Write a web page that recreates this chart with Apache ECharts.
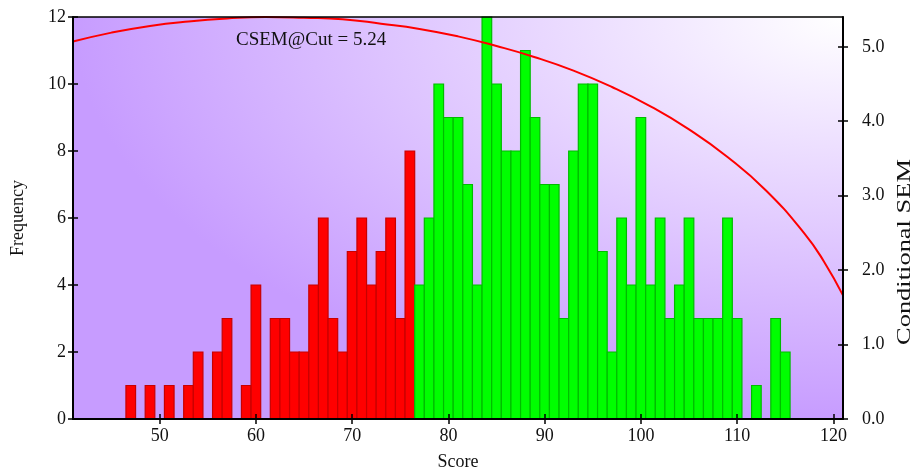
<!DOCTYPE html>
<html>
<head>
<meta charset="utf-8">
<script src="https://cdn.jsdelivr.net/npm/echarts@6/dist/echarts.min.js"></script>
<style>html,body{margin:0;padding:0;background:#fff}#c{width:914px;height:476px}</style>
</head>
<body>
<div id="c"></div>
<script>
// ---- data ----
const scores = [47,48,49,50,51,52,53,54,55,56,57,58,59,60,61,62,63,64,65,66,67,68,69,70,71,72,73,74,75,76,77,78,79,80,81,82,83,84,85,86,87,88,89,90,91,92,93,94,95,96,97,98,99,100,101,102,103,104,105,106,107,108,109,110,111,112,113,114,115];
const freqs  = [1,0,1,0,1,0,1,2,0,2,3,0,1,4,0,3,3,2,2,4,6,3,2,5,6,4,5,6,3,8,4,6,10,9,9,7,4,12,10,8,8,11,9,7,7,3,8,10,10,5,2,6,4,9,4,6,3,4,6,3,3,3,6,3,0,1,0,3,2];
const cutScore = 76.5;
const csemX = [41,45,49,53,57,61,65,69,73,77,81,85,89,93,97,101,105,109,113,117,119,121];
const csemY = [5.07,5.19,5.28,5.34,5.38,5.40,5.39,5.37,5.31,5.24,5.14,5.01,4.86,4.68,4.46,4.20,3.89,3.52,3.07,2.49,2.12,1.66];
const xTicks = [50,60,70,80,90,100,110,120];
const yLeftTicks = [0,2,4,6,8,10,12];
const yRightTicks = [0,1,2,3,4,5];
const csemAtCutLabel = 'CSEM@Cut = 5.24';

const FONT = 'Liberation Serif';
const chart = echarts.init(document.getElementById('c'));
const G = {left:73, right:71, top:17, bottom:57};
const pw = 914 - G.left - G.right, ph = 476 - G.top - G.bottom;

const barData = scores.map((s,i)=>[s, freqs[i]]);
const lineData = csemX.map((x,i)=>[x, csemY[i]]);

const blackLine = {color:'#000', width:2};
chart.setOption({
  animation:false,
  textStyle:{fontFamily:FONT},
  grid:{left:G.left, right:G.right, top:G.top, bottom:G.bottom},
  graphic:[
    {type:'rect', x:G.left, y:G.top, scaleX: pw/ph, silent:true, z:-1,
     shape:{x:0,y:0,width:ph,height:ph},
     style:{fill:new echarts.graphic.RadialGradient(1,0,1,[{offset:0,color:'#ffffff'},{offset:1,color:'#c79cff'}])}},
    {type:'text', x:236, y:40, silent:true, z:50,
     style:{text:csemAtCutLabel, font:'19px "Liberation Serif"', fill:'#111', align:'left', verticalAlign:'middle'}},
    {type:'text', x:905, y:252, rotation:Math.PI/2, scaleX:1.47, silent:true, z:50,
     style:{text:'Conditional SEM', font:'18px "Liberation Serif"', fill:'#111', align:'center', verticalAlign:'middle'}}
  ],
  xAxis:[
    {type:'value', min:41, max:121, position:'bottom', z:10,
     name:'Score', nameLocation:'middle', nameGap:34, nameTextStyle:{fontSize:18, color:'#111', fontFamily:FONT},
     axisLine:{show:true, onZero:false, lineStyle:blackLine},
     axisTick:{show:true, customValues:xTicks, length:5, lineStyle:{color:'#000', width:1.5}},
     axisLabel:{show:true, customValues:xTicks, fontSize:18, color:'#111', margin:8, fontFamily:FONT},
     splitLine:{show:false}},
    {type:'value', min:41, max:121, position:'top', z:10,
     axisLine:{show:true, onZero:false, lineStyle:{color:'#000', width:1.5}},
     axisTick:{show:false}, axisLabel:{show:false}, splitLine:{show:false}},
    {type:'value', min:41, max:121, position:'bottom', z:10,
     axisLine:{show:false, onZero:false},
     axisTick:{show:true, inside:true, customValues:xTicks, length:5, lineStyle:{color:'#000', width:1.5}},
     axisLabel:{show:false}, splitLine:{show:false}}
  ],
  yAxis:[
    {type:'value', min:0, max:12, position:'left', z:10,
     name:'Frequency', nameLocation:'middle', nameGap:46, nameRotate:90, nameTextStyle:{fontSize:18, color:'#111', fontFamily:FONT},
     axisLine:{show:true, onZero:false, lineStyle:blackLine},
     axisTick:{show:true, customValues:yLeftTicks, length:5, lineStyle:{color:'#000', width:1.5}},
     axisLabel:{show:true, customValues:yLeftTicks, fontSize:18, color:'#111', margin:7, fontFamily:FONT},
     splitLine:{show:false}},
    {type:'value', min:0, max:5.4, position:'right', z:10,
     axisLine:{show:true, onZero:false, lineStyle:blackLine},
     axisTick:{show:true, customValues:yRightTicks, length:5, lineStyle:{color:'#000', width:1.5}},
     axisLabel:{show:true, customValues:yRightTicks, fontSize:18, color:'#111', margin:19, fontFamily:FONT,
       formatter:v=>Number(v).toFixed(1)},
     splitLine:{show:false}},
    {type:'value', min:0, max:12, position:'left', z:10,
     axisLine:{show:false, onZero:false},
     axisTick:{show:true, inside:true, customValues:yLeftTicks, length:5, lineStyle:{color:'#000', width:1.5}},
     axisLabel:{show:false}, splitLine:{show:false}},
    {type:'value', min:0, max:5.4, position:'right', z:10,
     axisLine:{show:false, onZero:false},
     axisTick:{show:true, inside:true, customValues:yRightTicks, length:5, lineStyle:{color:'#000', width:1.5}},
     axisLabel:{show:false}, splitLine:{show:false}}
  ],
  series:[
    {type:'custom', xAxisIndex:0, yAxisIndex:0, data:barData, z:2,
     encode:{x:0, y:1},
     renderItem:function(params, api){
       const x = api.value(0), y = api.value(1);
       if (!y) return null;
       const p0 = api.coord([x-0.5, y]);
       const p1 = api.coord([x+0.5, 0]);
       const pass = x > cutScore;
       return {type:'rect',
         shape:{x:p0[0], y:p0[1], width:p1[0]-p0[0], height:p1[1]-p0[1]},
         style:{fill: pass ? '#00ff00' : '#ff0000', stroke: pass ? '#00bb00' : '#c80000', lineWidth:1.2}};
     }},
    {type:'line', xAxisIndex:0, yAxisIndex:1, data:lineData, smooth:true, showSymbol:false, z:5,
     lineStyle:{color:'#ff0000', width:2}}
  ]
});
</script>
</body>
</html>
